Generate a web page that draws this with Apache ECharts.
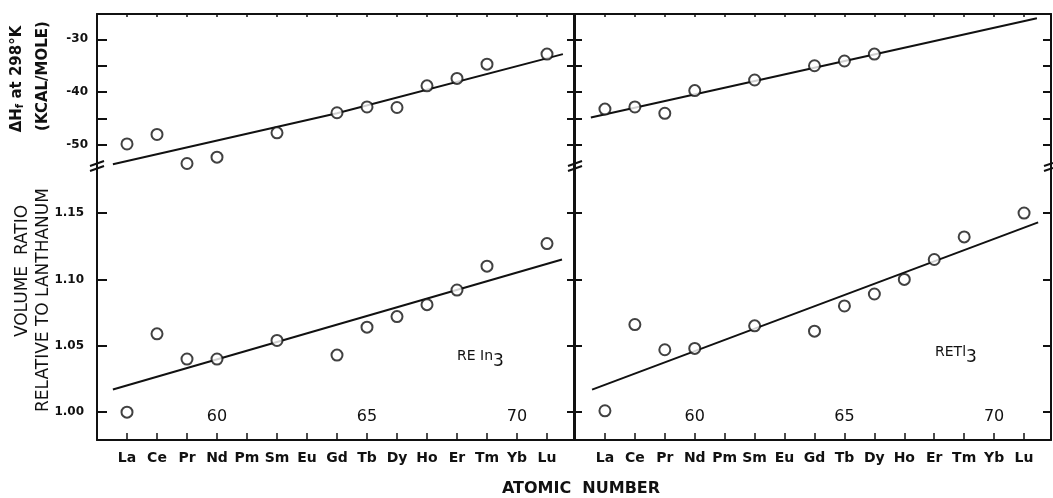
<!DOCTYPE html>
<html>
<head>
<meta charset="utf-8">
<script src="https://cdn.jsdelivr.net/npm/echarts@6/dist/echarts.min.js"></script>
<style>
  html, body { margin: 0; padding: 0; background: #fff; }
  #chart { width: 1053px; height: 498px; }
</style>
</head>
<body>
<div id="chart"></div>
<script>
// atomic number axis
var atomicTicks = [57, 58, 59, 60, 61, 62, 63, 64, 65, 66, 67, 68, 69, 70, 71];
var elementNames = ['La', 'Ce', 'Pr', 'Nd', 'Pm', 'Sm', 'Eu', 'Gd', 'Tb', 'Dy', 'Ho', 'Er', 'Tm', 'Yb', 'Lu'];
var numberLabels = [60, 65, 70];

// y ticks
var heatTicks = [-30, -35, -40, -45, -50];
var heatLabels = [-30, -40, -50];
var volumeTicks = [1.00, 1.05, 1.10, 1.15];

// REIn3 points
var inZ = [57, 58, 59, 60, 62, 64, 65, 66, 67, 68, 69, 71];
var inHeat = [-49.8, -48.0, -53.5, -52.3, -47.7, -43.9, -42.8, -42.9, -38.8, -37.4, -34.7, -32.8];
var inVolume = [1.000, 1.059, 1.040, 1.040, 1.054, 1.043, 1.064, 1.072, 1.081, 1.092, 1.110, 1.127];

// RETl3 points
var tlHeatZ = [57, 58, 59, 60, 62, 64, 65, 66];
var tlHeat = [-43.2, -42.8, -44.0, -39.7, -37.7, -35.0, -34.1, -32.8];
var tlVolumeZ = [57, 58, 59, 60, 62, 64, 65, 66, 67, 68, 69, 71];
var tlVolume = [1.001, 1.066, 1.047, 1.048, 1.065, 1.061, 1.080, 1.089, 1.100, 1.115, 1.132, 1.150];

// drawn fit lines
var inHeatFitZ = [56.53, 64, 71.53];
var inHeatFit = [-53.65, -44.0, -32.8];
var inVolumeFitZ = [56.53, 71.5];
var inVolumeFit = [1.017, 1.115];
var tlHeatFitZ = [56.53, 71.43];
var tlHeatFit = [-44.8, -26.0];
var tlVolumeFitZ = [56.57, 71.47];
var tlVolumeFit = [1.017, 1.143];

var FONT = 'DejaVu Sans';
var BLACK = '#111';

function zip(xs, ys) {
  return xs.map(function (x, i) { return [x, ys[i]]; });
}

function topAxis(grid) {
  return {
    gridIndex: grid, type: 'value', position: 'top', min: 56, max: 71.9,
    axisLine: { onZero: false, lineStyle: { color: BLACK, width: 2 } },
    axisTick: { inside: true, length: 3, customValues: atomicTicks, lineStyle: { color: BLACK, width: 1.5 } },
    axisLabel: { show: false }, splitLine: { show: false }
  };
}
function bottomAxis(grid) {
  return {
    gridIndex: grid, type: 'value', position: 'bottom', min: 56, max: 71.9,
    axisLine: { onZero: false, lineStyle: { color: BLACK, width: 2 } },
    axisTick: { inside: true, length: 7, customValues: atomicTicks, lineStyle: { color: BLACK, width: 1.5 } },
    axisLabel: {
      customValues: atomicTicks, margin: 11, color: BLACK, fontFamily: FONT, fontSize: 14, fontWeight: 'bold',
      formatter: function (v) { return elementNames[atomicTicks.indexOf(Math.round(v))] || ''; }
    },
    splitLine: { show: false }
  };
}
function numberAxis(grid) {
  return {
    gridIndex: grid, type: 'value', position: 'bottom', min: 56, max: 71.9,
    axisLine: { show: false, onZero: false }, axisTick: { show: false },
    axisLabel: { inside: true, customValues: numberLabels, margin: 15, color: BLACK, fontFamily: FONT, fontSize: 16 },
    splitLine: { show: false }
  };
}
function yAxis(grid, pos, min, max, ticks, tickLen, labels, fmt, margin) {
  return {
    gridIndex: grid, type: 'value', position: pos, min: min, max: max,
    axisLine: { onZero: false, lineStyle: { color: BLACK, width: 2 } },
    axisTick: { inside: true, length: tickLen, customValues: ticks, lineStyle: { color: BLACK, width: 2 } },
    axisLabel: labels ? {
      customValues: labels, margin: margin, color: BLACK, fontFamily: FONT, fontSize: 12, fontWeight: 'bold',
      formatter: fmt
    } : { show: false },
    splitLine: { show: false }
  };
}

var HMIN = -54.16, HMAX = -25.21, VMIN = 0.979, VMAX = 1.1847;
var heatFmt = function (v) { return String(Math.round(v)); };
var volFmt = function (v) { return v.toFixed(2); };

function points(x, y, xi, yi) {
  return {
    type: 'scatter', xAxisIndex: xi, yAxisIndex: yi, data: zip(x, y),
    symbol: 'emptyCircle', symbolSize: 11, z: 3,
    itemStyle: { color: BLACK, borderWidth: 2.2 }
  };
}
function fit(x, y, xi, yi) {
  return {
    type: 'line', xAxisIndex: xi, yAxisIndex: yi, data: zip(x, y),
    showSymbol: false, z: 2, lineStyle: { color: BLACK, width: 2 }
  };
}

var chart = echarts.init(document.getElementById('chart'));
var option = {
  backgroundColor: '#fff',
  animation: false,
  grid: [
    { left: 97, top: 14, width: 477, height: 153 },
    { left: 97, top: 167, width: 477, height: 273 },
    { left: 575, top: 14, width: 476, height: 153 },
    { left: 575, top: 167, width: 476, height: 273 }
  ],
  xAxis: [
    topAxis(0),       // 0
    bottomAxis(1),    // 1
    numberAxis(1),    // 2
    topAxis(2),       // 3
    bottomAxis(3),    // 4
    numberAxis(3)     // 5
  ],
  yAxis: [
    yAxis(0, 'left', HMIN, HMAX, heatTicks, 10, heatLabels, heatFmt, 9),     // 0
    yAxis(0, 'right', HMIN, HMAX, heatTicks, 7),                              // 1
    yAxis(1, 'left', VMIN, VMAX, volumeTicks, 10, volumeTicks, volFmt, 13),  // 2
    yAxis(1, 'right', VMIN, VMAX, volumeTicks, 7),                            // 3
    yAxis(2, 'left', HMIN, HMAX, heatTicks, 7),                               // 4
    yAxis(2, 'right', HMIN, HMAX, heatTicks, 8),                              // 5
    yAxis(3, 'left', VMIN, VMAX, volumeTicks, 7),                             // 6
    yAxis(3, 'right', VMIN, VMAX, volumeTicks, 8)                             // 7
  ],
  series: [
    fit(inHeatFitZ, inHeatFit, 0, 0),
    points(inZ, inHeat, 0, 0),
    fit(inVolumeFitZ, inVolumeFit, 1, 2),
    points(inZ, inVolume, 1, 2),
    fit(tlHeatFitZ, tlHeatFit, 3, 4),
    points(tlHeatZ, tlHeat, 3, 4),
    fit(tlVolumeFitZ, tlVolumeFit, 4, 6),
    points(tlVolumeZ, tlVolume, 4, 6)
  ],
  graphic: [
    { type: 'text', x: 17, y: 79, rotation: Math.PI / 2,
      style: { text: 'ΔH{s|f} at 298°K', textAlign: 'center', textVerticalAlign: 'middle',
        font: 'bold 15px "DejaVu Sans"', fill: BLACK,
        rich: { s: { fontSize: 10, fontWeight: 'bold', fontFamily: FONT, verticalAlign: 'bottom', padding: [6, 0, 0, 0] } } } },
    { type: 'text', x: 43, y: 76, rotation: Math.PI / 2,
      style: { text: '(KCAL/MOLE)', textAlign: 'center', textVerticalAlign: 'middle',
        font: 'bold 15px "DejaVu Sans"', fill: BLACK } },
    { type: 'text', x: 23, y: 271, rotation: Math.PI / 2,
      style: { text: 'VOLUME  RATIO', textAlign: 'center', textVerticalAlign: 'middle',
        font: '17px "DejaVu Sans"', fill: BLACK } },
    { type: 'text', x: 44, y: 300, rotation: Math.PI / 2,
      style: { text: 'RELATIVE TO LANTHANUM', textAlign: 'center', textVerticalAlign: 'middle',
        font: '17px "DejaVu Sans"', fill: BLACK } },
    { type: 'text', x: 581, y: 489,
      style: { text: 'ATOMIC  NUMBER', textAlign: 'center', textVerticalAlign: 'middle',
        font: 'bold 16px "DejaVu Sans"', fill: BLACK } },
    { type: 'text', x: 457, y: 343,
      style: { text: 'RE In{s|3}', font: '14px "DejaVu Sans"', fill: BLACK,
        rich: { s: { fontSize: 17, fontFamily: FONT, padding: [10, 0, 0, 0] } } } },
    { type: 'text', x: 935, y: 339,
      style: { text: 'RETl{s|3}', font: '14px "DejaVu Sans"', fill: BLACK,
        rich: { s: { fontSize: 17, fontFamily: FONT, padding: [10, 0, 0, 0] } } } },
    // axis break marks
    { type: 'line', shape: { x1: 90, y1: 166, x2: 104, y2: 161 }, style: { stroke: BLACK, lineWidth: 2 } },
    { type: 'line', shape: { x1: 90, y1: 171, x2: 104, y2: 166 }, style: { stroke: BLACK, lineWidth: 2 } },
    { type: 'line', shape: { x1: 568, y1: 166, x2: 582, y2: 161 }, style: { stroke: BLACK, lineWidth: 2 } },
    { type: 'line', shape: { x1: 568, y1: 171, x2: 582, y2: 166 }, style: { stroke: BLACK, lineWidth: 2 } },
    { type: 'line', shape: { x1: 1044, y1: 166, x2: 1053, y2: 163 }, style: { stroke: BLACK, lineWidth: 2 } },
    { type: 'line', shape: { x1: 1044, y1: 171, x2: 1053, y2: 168 }, style: { stroke: BLACK, lineWidth: 2 } }
  ]
};
chart.setOption(option);
</script>
</body>
</html>
